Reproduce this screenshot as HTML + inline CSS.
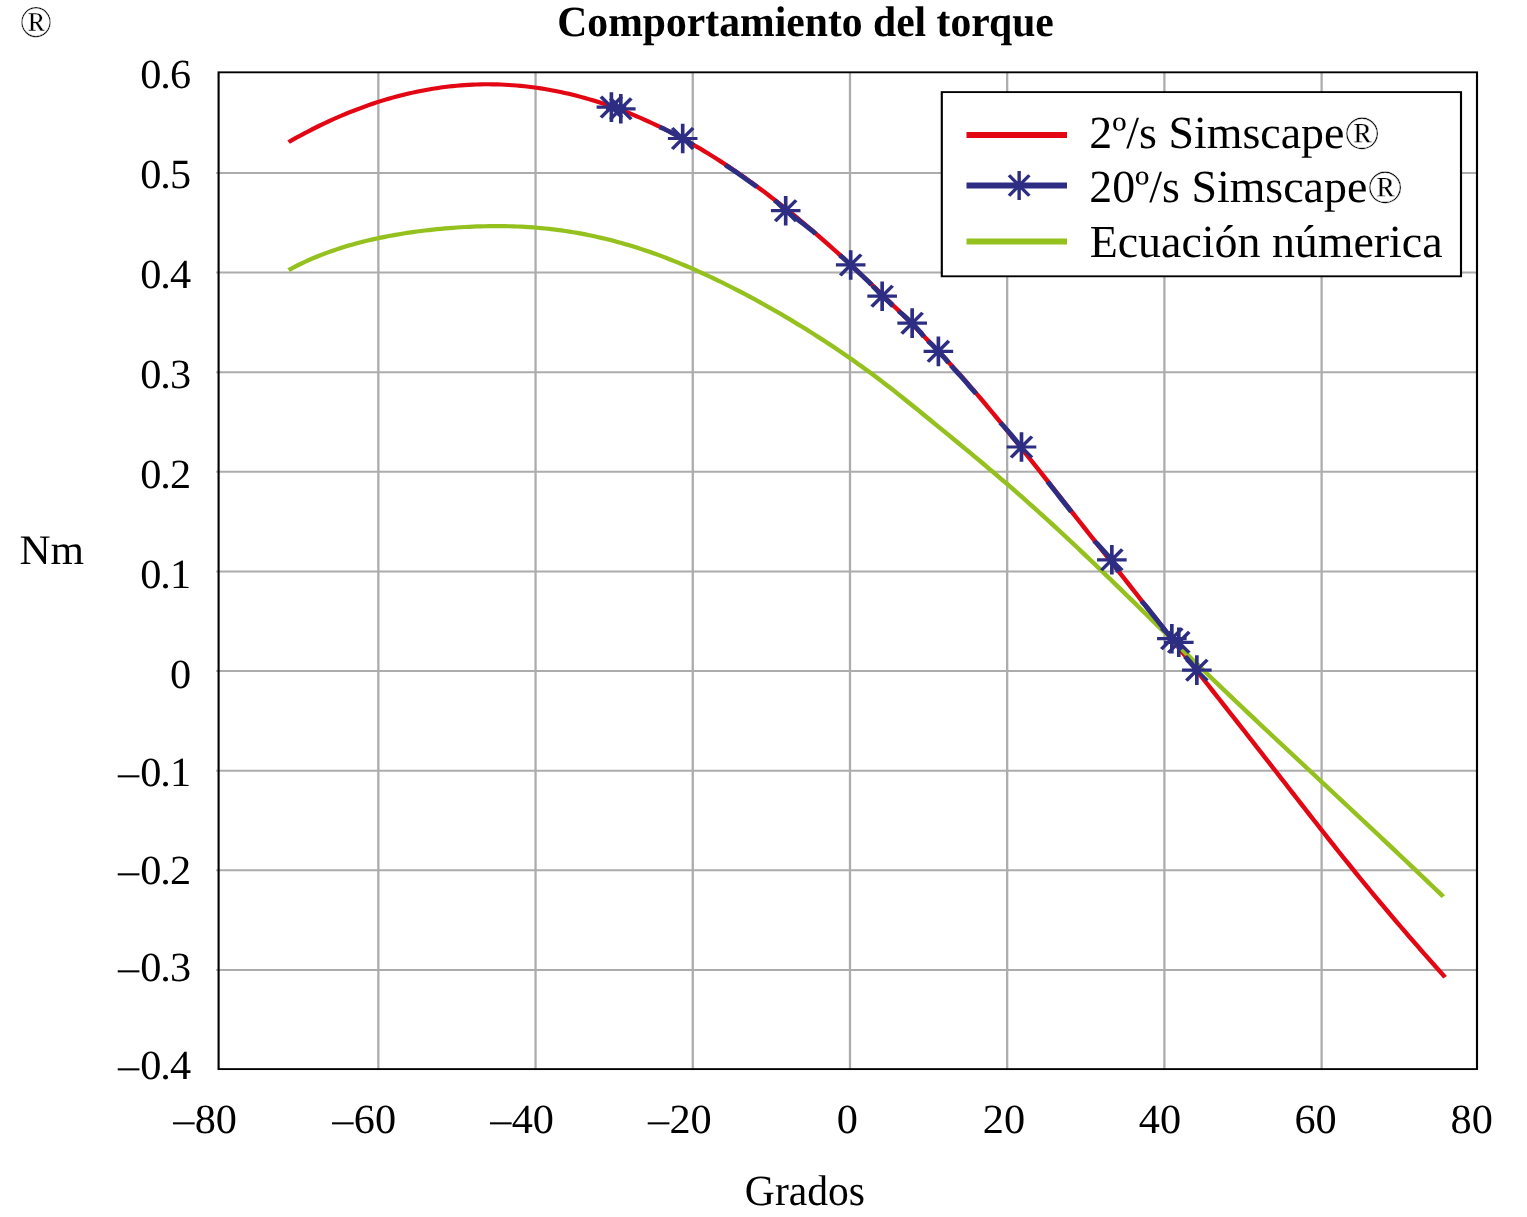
<!DOCTYPE html>
<html lang="es"><head><meta charset="utf-8"><title>Comportamiento del torque</title>
<style>html,body{margin:0;padding:0;background:#fff}body{width:1527px;height:1217px;overflow:hidden}svg{display:block}text{font-family:'Liberation Serif', 'DejaVu Serif', serif;fill:#000;text-rendering:geometricPrecision}</style>
</head><body>
<svg width="1527" height="1217" viewBox="0 0 1527 1217" role="img" aria-label="Comportamiento del torque">
<rect width="1527" height="1217" fill="#fff"/>
<g transform="scale(1.14,1)">
<g stroke="#adacad" stroke-width="2.0" fill="none">
<line x1="331.89" y1="72.2" x2="331.89" y2="1069.0"/>
<line x1="469.79" y1="72.2" x2="469.79" y2="1069.0"/>
<line x1="607.69" y1="72.2" x2="607.69" y2="1069.0"/>
<line x1="745.60" y1="72.2" x2="745.60" y2="1069.0"/>
<line x1="883.50" y1="72.2" x2="883.50" y2="1069.0"/>
<line x1="1021.40" y1="72.2" x2="1021.40" y2="1069.0"/>
<line x1="1159.31" y1="72.2" x2="1159.31" y2="1069.0"/>
<line x1="189.65" y1="173.00" x2="1295.61" y2="173.00"/>
<line x1="189.65" y1="272.62" x2="1295.61" y2="272.62"/>
<line x1="189.65" y1="372.24" x2="1295.61" y2="372.24"/>
<line x1="189.65" y1="471.86" x2="1295.61" y2="471.86"/>
<line x1="189.65" y1="571.48" x2="1295.61" y2="571.48"/>
<line x1="189.65" y1="671.10" x2="1295.61" y2="671.10"/>
<line x1="189.65" y1="770.72" x2="1295.61" y2="770.72"/>
<line x1="189.65" y1="870.34" x2="1295.61" y2="870.34"/>
<line x1="189.65" y1="969.96" x2="1295.61" y2="969.96"/>
</g>
<rect x="191.75" y="72.32" width="1103.86" height="996.78" fill="none" stroke="#000" stroke-width="1.87"/>
<path d="M253.16,142.11 L256.67,139.83 L260.18,137.60 L263.69,135.42 L267.20,133.28 L270.71,131.18 L274.22,129.13 L277.73,127.12 L281.24,125.16 L284.75,123.25 L288.26,121.37 L291.77,119.55 L295.28,117.76 L298.79,116.03 L302.30,114.34 L305.81,112.69 L309.32,111.09 L312.83,109.54 L316.34,108.03 L319.85,106.56 L323.36,105.15 L326.87,103.78 L330.38,102.45 L333.89,101.17 L337.40,99.94 L340.92,98.76 L344.43,97.62 L347.94,96.52 L351.45,95.48 L354.96,94.48 L358.47,93.53 L361.98,92.62 L365.49,91.76 L369.00,90.95 L372.51,90.18 L376.02,89.46 L379.53,88.79 L383.04,88.16 L386.55,87.58 L390.06,87.05 L393.57,86.57 L397.08,86.13 L400.59,85.74 L404.10,85.40 L407.61,85.10 L411.12,84.85 L414.63,84.65 L418.14,84.49 L421.65,84.38 L425.16,84.32 L428.67,84.31 L432.18,84.34 L435.69,84.42 L439.20,84.54 L442.71,84.72 L446.22,84.93 L449.73,85.20 L453.24,85.51 L456.75,85.87 L460.26,86.28 L463.78,86.73 L467.29,87.23 L470.80,87.78 L474.31,88.37 L477.82,89.01 L481.33,89.70 L484.84,90.43 L488.35,91.20 L491.86,92.03 L495.37,92.90 L498.88,93.81 L502.39,94.78 L505.90,95.78 L509.41,96.84 L512.92,97.93 L516.43,99.08 L519.94,100.27 L523.45,101.50 L526.96,102.78 L530.47,104.11 L533.98,105.48 L537.49,106.89 L541.00,108.35 L544.51,109.85 L548.02,111.40 L551.53,112.99 L555.04,114.63 L558.55,116.31 L562.06,118.03 L565.57,119.80 L569.08,121.61 L572.59,123.47 L576.10,125.37 L579.61,127.31 L583.13,129.29 L586.64,131.32 L590.15,133.39 L593.66,135.50 L597.17,137.66 L600.68,139.85 L604.19,142.09 L607.70,144.37 L611.21,146.69 L614.72,149.06 L618.23,151.46 L621.74,153.91 L625.25,156.39 L628.76,158.92 L632.27,161.48 L635.78,164.09 L639.29,166.74 L642.80,169.42 L646.31,172.15 L649.82,174.91 L653.33,177.72 L656.84,180.56 L660.35,183.44 L663.86,186.36 L667.37,189.32 L670.88,192.31 L674.39,195.35 L677.90,198.42 L681.41,201.52 L684.92,204.66 L688.43,207.84 L691.94,211.06 L695.45,214.30 L698.96,217.59 L702.47,220.90 L705.99,224.25 L709.50,227.64 L713.01,231.05 L716.52,234.50 L720.03,237.97 L723.54,241.48 L727.05,245.02 L730.56,248.58 L734.07,252.18 L737.58,255.80 L741.09,259.44 L744.60,263.12 L748.11,266.81 L751.62,270.53 L755.13,274.28 L758.64,278.05 L762.15,281.83 L765.66,285.64 L769.17,289.48 L772.68,293.33 L776.19,297.20 L779.70,301.10 L783.21,305.02 L786.72,308.96 L790.23,312.92 L793.74,316.91 L797.25,320.92 L800.76,324.95 L804.27,329.01 L807.78,333.10 L811.29,337.22 L814.80,341.37 L818.31,345.55 L821.82,349.76 L825.34,354.01 L828.85,358.29 L832.36,362.61 L835.87,366.98 L839.38,371.39 L842.89,375.84 L846.40,380.34 L849.91,384.89 L853.42,389.49 L856.93,394.13 L860.44,398.82 L863.95,403.56 L867.46,408.34 L870.97,413.15 L874.48,418.00 L877.99,422.87 L881.50,427.78 L885.01,432.70 L888.52,437.65 L892.03,442.61 L895.54,447.60 L899.05,452.59 L902.56,457.60 L906.07,462.62 L909.58,467.64 L913.09,472.68 L916.60,477.73 L920.11,482.78 L923.62,487.84 L927.13,492.90 L930.64,497.97 L934.15,503.05 L937.66,508.13 L941.17,513.21 L944.68,518.30 L948.20,523.38 L951.71,528.48 L955.22,533.57 L958.73,538.66 L962.24,543.76 L965.75,548.86 L969.26,553.95 L972.77,559.05 L976.28,564.14 L979.79,569.24 L983.30,574.34 L986.81,579.43 L990.32,584.52 L993.83,589.62 L997.34,594.71 L1000.85,599.80 L1004.36,604.89 L1007.87,609.97 L1011.38,615.06 L1014.89,620.14 L1018.40,625.22 L1021.91,630.30 L1025.42,635.38 L1028.93,640.46 L1032.44,645.54 L1035.95,650.62 L1039.46,655.69 L1042.97,660.77 L1046.48,665.84 L1049.99,670.92 L1053.50,675.99 L1057.01,681.07 L1060.52,686.15 L1064.03,691.22 L1067.55,696.31 L1071.06,701.39 L1074.57,706.47 L1078.08,711.56 L1081.59,716.65 L1085.10,721.75 L1088.61,726.85 L1092.12,731.95 L1095.63,737.06 L1099.14,742.18 L1102.65,747.29 L1106.16,752.41 L1109.67,757.54 L1113.18,762.67 L1116.69,767.80 L1120.20,772.93 L1123.71,778.07 L1127.22,783.21 L1130.73,788.34 L1134.24,793.48 L1137.75,798.61 L1141.26,803.74 L1144.77,808.87 L1148.28,813.99 L1151.79,819.10 L1155.30,824.21 L1158.81,829.30 L1162.32,834.39 L1165.83,839.46 L1169.34,844.51 L1172.85,849.55 L1176.36,854.57 L1179.87,859.57 L1183.38,864.55 L1186.89,869.51 L1190.41,874.45 L1193.92,879.36 L1197.43,884.24 L1200.94,889.11 L1204.45,893.95 L1207.96,898.76 L1211.47,903.55 L1214.98,908.31 L1218.49,913.05 L1222.00,917.77 L1225.51,922.46 L1229.02,927.13 L1232.53,931.78 L1236.04,936.40 L1239.55,941.01 L1243.06,945.60 L1246.57,950.17 L1250.08,954.72 L1253.59,959.26 L1257.10,963.79 L1260.61,968.31 L1264.12,972.82 L1267.63,977.32" stroke="#e30613" stroke-width="4.1" fill="none"/>
<path d="M253.16,270.09 L256.67,267.95 L260.19,265.89 L263.71,263.91 L267.23,262.02 L270.74,260.20 L274.26,258.45 L277.78,256.77 L281.29,255.16 L284.81,253.61 L288.33,252.13 L291.84,250.71 L295.36,249.35 L298.88,248.04 L302.40,246.79 L305.91,245.59 L309.43,244.44 L312.95,243.34 L316.46,242.28 L319.98,241.27 L323.50,240.30 L327.01,239.37 L330.53,238.49 L334.05,237.64 L337.57,236.83 L341.08,236.06 L344.60,235.32 L348.12,234.61 L351.63,233.94 L355.15,233.30 L358.67,232.68 L362.18,232.10 L365.70,231.55 L369.22,231.03 L372.74,230.53 L376.25,230.06 L379.77,229.62 L383.29,229.20 L386.80,228.82 L390.32,228.45 L393.84,228.11 L397.35,227.80 L400.87,227.52 L404.39,227.26 L407.91,227.02 L411.42,226.81 L414.94,226.63 L418.46,226.47 L421.97,226.35 L425.49,226.25 L429.01,226.17 L432.52,226.13 L436.04,226.12 L439.56,226.13 L443.08,226.18 L446.59,226.26 L450.11,226.37 L453.63,226.52 L457.14,226.69 L460.66,226.90 L464.18,227.15 L467.69,227.43 L471.21,227.75 L474.73,228.10 L478.25,228.49 L481.76,228.91 L485.28,229.37 L488.80,229.87 L492.31,230.40 L495.83,230.98 L499.35,231.59 L502.86,232.24 L506.38,232.92 L509.90,233.65 L513.42,234.41 L516.93,235.21 L520.45,236.05 L523.97,236.93 L527.48,237.85 L531.00,238.80 L534.52,239.80 L538.03,240.83 L541.55,241.90 L545.07,243.01 L548.59,244.16 L552.10,245.35 L555.62,246.57 L559.14,247.83 L562.65,249.13 L566.17,250.46 L569.69,251.83 L573.20,253.24 L576.72,254.68 L580.24,256.16 L583.76,257.68 L587.27,259.23 L590.79,260.81 L594.31,262.43 L597.82,264.08 L601.34,265.76 L604.86,267.47 L608.37,269.22 L611.89,271.00 L615.41,272.80 L618.93,274.64 L622.44,276.50 L625.96,278.40 L629.48,280.32 L632.99,282.27 L636.51,284.25 L640.03,286.25 L643.54,288.28 L647.06,290.33 L650.58,292.42 L654.10,294.52 L657.61,296.65 L661.13,298.81 L664.65,300.99 L668.16,303.20 L671.68,305.43 L675.20,307.69 L678.71,309.97 L682.23,312.27 L685.75,314.60 L689.27,316.95 L692.78,319.33 L696.30,321.73 L699.82,324.16 L703.33,326.61 L706.85,329.09 L710.37,331.59 L713.88,334.12 L717.40,336.68 L720.92,339.26 L724.44,341.87 L727.95,344.50 L731.47,347.17 L734.99,349.86 L738.50,352.58 L742.02,355.33 L745.54,358.11 L749.05,360.92 L752.57,363.76 L756.09,366.63 L759.61,369.53 L763.12,372.47 L766.64,375.44 L770.16,378.45 L773.67,381.48 L777.19,384.56 L780.71,387.66 L784.22,390.80 L787.74,393.96 L791.26,397.15 L794.78,400.36 L798.29,403.59 L801.81,406.83 L805.33,410.08 L808.84,413.35 L812.36,416.62 L815.88,419.89 L819.39,423.17 L822.91,426.45 L826.43,429.73 L829.95,433.02 L833.46,436.30 L836.98,439.60 L840.50,442.89 L844.01,446.20 L847.53,449.51 L851.05,452.84 L854.56,456.17 L858.08,459.52 L861.60,462.88 L865.12,466.25 L868.63,469.64 L872.15,473.04 L875.67,476.45 L879.18,479.89 L882.70,483.34 L886.22,486.81 L889.73,490.29 L893.25,493.80 L896.77,497.32 L900.29,500.87 L903.80,504.43 L907.32,508.01 L910.84,511.61 L914.35,515.23 L917.87,518.87 L921.39,522.53 L924.90,526.21 L928.42,529.91 L931.94,533.62 L935.46,537.36 L938.97,541.11 L942.49,544.87 L946.01,548.66 L949.52,552.46 L953.04,556.27 L956.56,560.10 L960.07,563.95 L963.59,567.80 L967.11,571.67 L970.62,575.55 L974.14,579.43 L977.66,583.33 L981.18,587.24 L984.69,591.15 L988.21,595.07 L991.73,598.99 L995.24,602.92 L998.76,606.85 L1002.28,610.79 L1005.79,614.72 L1009.31,618.66 L1012.83,622.60 L1016.35,626.54 L1019.86,630.47 L1023.38,634.40 L1026.90,638.33 L1030.41,642.25 L1033.93,646.17 L1037.45,650.09 L1040.96,654.00 L1044.48,657.90 L1048.00,661.79 L1051.52,665.68 L1055.03,669.56 L1058.55,673.43 L1062.07,677.29 L1065.58,681.15 L1069.10,685.00 L1072.62,688.83 L1076.13,692.67 L1079.65,696.49 L1083.17,700.31 L1086.69,704.11 L1090.20,707.92 L1093.72,711.71 L1097.24,715.50 L1100.75,719.28 L1104.27,723.06 L1107.79,726.84 L1111.30,730.61 L1114.82,734.37 L1118.34,738.13 L1121.86,741.89 L1125.37,745.65 L1128.89,749.40 L1132.41,753.15 L1135.92,756.90 L1139.44,760.64 L1142.96,764.39 L1146.47,768.13 L1149.99,771.87 L1153.51,775.62 L1157.03,779.36 L1160.54,783.10 L1164.06,786.85 L1167.58,790.59 L1171.09,794.34 L1174.61,798.08 L1178.13,801.83 L1181.64,805.58 L1185.16,809.33 L1188.68,813.09 L1192.20,816.84 L1195.71,820.60 L1199.23,824.37 L1202.75,828.13 L1206.26,831.90 L1209.78,835.67 L1213.30,839.45 L1216.81,843.22 L1220.33,847.01 L1223.85,850.79 L1227.37,854.58 L1230.88,858.38 L1234.40,862.18 L1237.92,865.98 L1241.43,869.79 L1244.95,873.61 L1248.47,877.42 L1251.98,881.25 L1255.50,885.08 L1259.02,888.91 L1262.54,892.75 L1266.05,896.59" stroke="#95c11f" stroke-width="4.2" fill="none"/>
<g stroke="#2d2e83" stroke-width="4.5" fill="none">
<path d="M536.32,107.10 L539.06,107.64 L541.81,108.21 L544.56,108.80"/>
<path d="M578.64,127.19 L581.55,128.37 L584.23,129.87 L586.92,131.40 L589.61,132.96 L592.30,134.54 L594.98,136.14 L597.67,137.77 L598.86,138.50 L600.36,139.47 L603.05,141.24 L605.73,143.03 L608.20,145.15"/>
<path d="M636.36,164.99 L639.13,167.08 L641.90,169.20 L644.68,171.35 L647.45,173.51 L650.22,175.71 L652.99,177.92 L655.76,180.16 L658.54,182.43 L661.31,184.72 L664.08,187.03"/>
<path d="M679.52,200.33 L682.51,203.13 L685.28,206.24 L688.05,209.38 L689.21,210.70 L690.82,212.04 L693.59,214.37 L696.36,216.71 L699.13,219.08 L701.90,221.48 L704.67,223.89 L707.44,226.32 L710.21,228.77 L712.98,231.25 L715.53,234.04"/>
<path d="M736.80,255.52 L739.79,258.13 L742.56,261.05 L745.33,264.00 L746.23,264.95 L748.11,266.92 L750.88,269.84 L753.65,272.77 L756.42,275.72 L759.19,278.68 L761.96,281.65 L764.52,284.94"/>
<path d="M766.01,286.56 L769.02,289.90 L771.81,293.55 L773.82,296.19 L774.61,296.92 L777.40,299.52 L780.19,302.13 L782.76,305.06"/>
<path d="M788.20,311.17 L791.21,313.77 L793.99,316.67 L796.78,319.60 L799.56,322.54 L800.14,323.15 L802.35,325.92 L805.13,329.44 L807.92,332.97 L810.48,336.82"/>
<path d="M814.08,341.07 L817.31,344.34 L820.32,347.94 L823.14,351.33 L823.33,351.56 L826.35,355.22 L829.36,358.91 L832.15,362.93"/>
<path d="M834.34,365.65 L837.07,369.06 L839.80,372.50 L842.53,375.97 L845.26,379.46 L847.99,382.99 L850.72,386.54 L853.45,390.12 L856.18,393.74"/>
<path d="M877.50,422.80 L880.65,426.38 L883.58,430.27 L886.52,434.19 L889.45,438.11 L892.38,442.05 L895.31,446.00 L896.05,447.00 L898.03,451.74"/>
<path d="M918.99,481.78 L921.95,486.04 L924.91,490.30 L927.86,494.57 L930.82,498.85 L933.78,503.12 L936.74,507.40 L939.69,511.68"/>
<path d="M959.87,540.94 L962.75,543.99 L965.42,547.35 L968.08,550.70 L970.75,554.06 L973.41,557.41 L975.31,559.80 L976.07,561.28 L978.74,566.44 L981.18,571.89"/>
<path d="M1001.36,601.15 L1004.28,604.74 L1006.99,608.63 L1009.69,612.52 L1012.40,616.40 L1015.10,620.29 L1017.81,624.17 L1020.51,628.05 L1023.22,631.94 L1025.92,635.82 L1027.93,638.70 L1028.63,639.11 L1031.33,640.71 L1034.04,642.30"/>
<path d="M1039.61,656.52 L1043.17,660.86 L1046.52,665.51 L1049.87,670.16"/>
</g>
<g>
<path d="M523.33,107.10H549.30M536.32,92.30V121.90M527.14,96.63L545.50,117.57M527.14,117.57L545.50,96.63" stroke="#2d2e83" stroke-width="3.2" fill="none"/>
<path d="M531.58,108.80H557.54M544.56,94.00V123.60M535.38,98.33L553.74,119.27M535.38,119.27L553.74,98.33" stroke="#2d2e83" stroke-width="3.2" fill="none"/>
<path d="M585.88,138.50H611.84M598.86,123.70V153.30M589.68,128.03L608.04,148.97M589.68,148.97L608.04,128.03" stroke="#2d2e83" stroke-width="3.2" fill="none"/>
<path d="M676.23,210.70H702.19M689.21,195.90V225.50M680.03,200.23L698.39,221.17M680.03,221.17L698.39,200.23" stroke="#2d2e83" stroke-width="3.2" fill="none"/>
<path d="M733.25,264.95H759.21M746.23,250.15V279.75M737.05,254.48L755.41,275.42M737.05,275.42L755.41,254.48" stroke="#2d2e83" stroke-width="3.2" fill="none"/>
<path d="M760.84,296.19H786.81M773.82,281.39V310.99M764.64,285.72L783.00,306.66M764.64,306.66L783.00,285.72" stroke="#2d2e83" stroke-width="3.2" fill="none"/>
<path d="M787.16,323.15H813.12M800.14,308.35V337.95M790.96,312.68L809.32,333.62M790.96,333.62L809.32,312.68" stroke="#2d2e83" stroke-width="3.2" fill="none"/>
<path d="M810.16,351.33H836.12M823.14,336.53V366.13M813.96,340.86L832.32,361.80M813.96,361.80L832.32,340.86" stroke="#2d2e83" stroke-width="3.2" fill="none"/>
<path d="M883.07,447.00H909.04M896.05,432.20V461.80M886.87,436.53L905.23,457.47M886.87,457.47L905.23,436.53" stroke="#2d2e83" stroke-width="3.2" fill="none"/>
<path d="M962.32,559.80H988.29M975.31,545.00V574.60M966.13,549.33L984.49,570.27M966.13,570.27L984.49,549.33" stroke="#2d2e83" stroke-width="3.2" fill="none"/>
<path d="M1014.95,638.70H1040.91M1027.93,623.90V653.50M1018.75,628.23L1037.11,649.17M1018.75,649.17L1037.11,628.23" stroke="#2d2e83" stroke-width="3.2" fill="none"/>
<path d="M1021.05,642.30H1047.02M1034.04,627.50V657.10M1024.86,631.83L1043.22,652.77M1024.86,652.77L1043.22,631.83" stroke="#2d2e83" stroke-width="3.2" fill="none"/>
<path d="M1036.89,670.16H1062.85M1049.87,655.36V684.96M1040.69,659.69L1059.05,680.63M1040.69,680.63L1059.05,659.69" stroke="#2d2e83" stroke-width="3.2" fill="none"/>
</g>
<rect x="826.14" y="92.1" width="455.44" height="184.20" fill="#fff" stroke="#000" stroke-width="1.87"/>
<line x1="847.81" y1="135.0" x2="935.96" y2="135.0" stroke="#e30613" stroke-width="6.0"/>
<line x1="847.81" y1="185.4" x2="935.96" y2="185.4" stroke="#2d2e83" stroke-width="6.0"/>
<path d="M881.36,185.50H906.62M893.99,171.10V199.90M885.06,175.32L902.92,195.68M885.06,195.68L902.92,175.32" stroke="#2d2e83" stroke-width="3.0" fill="none"/>
<line x1="847.81" y1="241.4" x2="935.96" y2="241.4" stroke="#95c11f" stroke-width="6.0"/>
</g>
<g font-size="45.9">
<text x="1089.2" y="148.0">2º/s Simscape<tspan font-size="47.6" dy="0.9" dx="-0.3" stroke="#fff" stroke-width="0.45">®</tspan></text>
<text x="1089.2" y="202.2">20º/s Simscape<tspan font-size="47.6" dy="0.9" dx="-0.3" stroke="#fff" stroke-width="0.45">®</tspan></text>
<text x="1089.7" y="256.5">Ecuación númerica</text>
</g>
<text x="557.3" y="36.3" font-size="43.0" font-weight="bold" textLength="496.5" lengthAdjust="spacingAndGlyphs">Comportamiento del torque</text>
<text x="19.3" y="36.75" font-size="45.3" stroke="#fff" stroke-width="0.45" textLength="33.4" lengthAdjust="spacingAndGlyphs">®</text>
<g font-size="41.5" transform="scale(1.02,1)">
<text x="137.45" y="87.75" letter-spacing="-1.0">0.6</text>
<text x="137.45" y="187.75" letter-spacing="-1.0">0.5</text>
<text x="137.45" y="287.75" letter-spacing="-1.0">0.4</text>
<text x="137.45" y="387.75" letter-spacing="-1.0">0.3</text>
<text x="137.45" y="487.75" letter-spacing="-1.0">0.2</text>
<text x="137.45" y="587.75" letter-spacing="-1.0">0.1</text>
<text x="166.57" y="687.75">0</text>
<text y="785.75"><tspan x="115.78">–</tspan><tspan x="137.45" letter-spacing="-1.0">0.1</tspan></text>
<text y="883.85"><tspan x="115.78">–</tspan><tspan x="137.45" letter-spacing="-1.0">0.2</tspan></text>
<text y="981.05"><tspan x="115.78">–</tspan><tspan x="137.45" letter-spacing="-1.0">0.3</tspan></text>
<text y="1078.95"><tspan x="115.78">–</tspan><tspan x="137.45" letter-spacing="-1.0">0.4</tspan></text>
<text y="1133.05"><tspan x="169.81">–</tspan><tspan x="190.85">80</tspan></text>
<text y="1133.05"><tspan x="325.79">–</tspan><tspan x="346.83">60</tspan></text>
<text y="1133.05"><tspan x="480.59">–</tspan><tspan x="501.64">40</tspan></text>
<text y="1133.05"><tspan x="635.30">–</tspan><tspan x="656.34">20</tspan></text>
<text x="820.43" y="1133.05">0</text>
<text x="963.50" y="1133.05">20</text>
<text x="1116.44" y="1133.05">40</text>
<text x="1269.09" y="1133.05">60</text>
<text x="1422.13" y="1133.05">80</text>
</g>
<g font-size="41.5">
<text x="19.5" y="564.0" font-size="42.1" textLength="64.6" lengthAdjust="spacingAndGlyphs">Nm</text>
<text x="744.86" y="1205.0" font-size="43.0" textLength="120.2" lengthAdjust="spacingAndGlyphs">Grados</text>
</g>
</svg></body></html>
